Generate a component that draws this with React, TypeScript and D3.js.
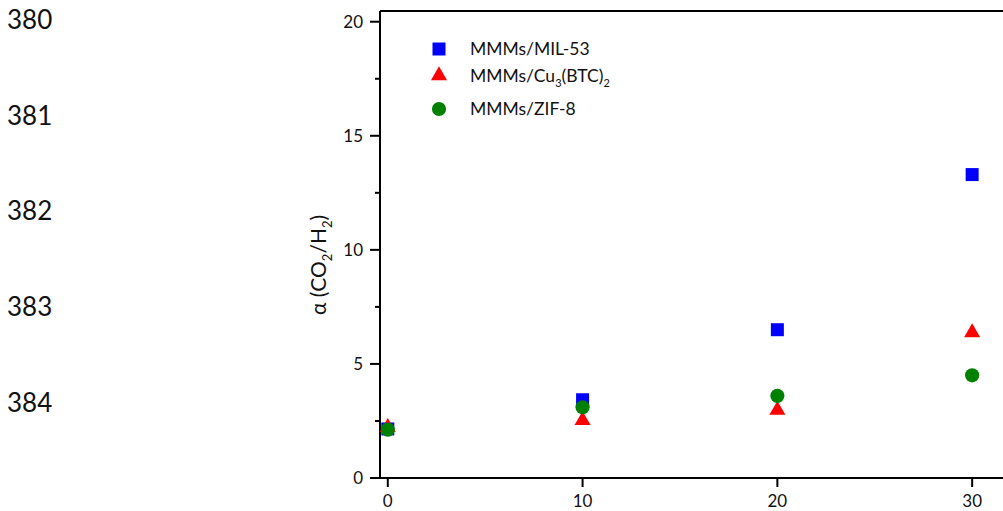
import React from 'react';
import * as d3 from 'd3';

// loading (wt%) on x, selectivity on y
const loadings = [0, 10, 20, 30];
const mil53 = [2.15, 3.43, 6.5, 13.3];
const cuBtc = [2.2, 2.5, 2.95, 6.35];
const zif8 = [2.12, 3.1, 3.6, 4.5];

const xTicks = [0, 10, 20, 30];
const yTicks = [0, 5, 10, 15, 20];
const yMinor = [2.5, 7.5, 12.5, 17.5];
const lineNumbers = ['380', '381', '382', '383', '384'];

const W = 1003;
const H = 511;
const plot = { left: 380, right: 1015, top: 11, bottom: 478 };
const font = 'Lato, "Open Sans", sans-serif';

const x = d3.scaleLinear().domain([-0.4, 32.2]).range([plot.left, plot.right]);
const y = d3.scaleLinear().domain([0, 20.47]).range([plot.bottom, plot.top]);

const series = [
    { name: 'mil', values: mil53, color: '#0000ff', shape: d3.symbolSquare, size: 169 },
    { name: 'cu', values: cuBtc, color: '#ff0000', shape: d3.symbolTriangle, size: 112 },
    { name: 'zif', values: zif8, color: '#008000', shape: d3.symbolCircle, size: 158 },
];

function Marker({ cx, cy, s }: { cx: number; cy: number; s: any }) {
    const d = d3.symbol().type(s.shape).size(s.size)() as string;
    const dy = s.shape === d3.symbolTriangle ? -0.5 : 0;
    return <path d={d} transform={`translate(${cx},${cy + dy})`} fill={s.color} />;
}

export default function App() {
    return (
        <svg width={W} height={H} style={{ position: 'absolute', left: 0, top: 0, background: '#fff' }}>
            {lineNumbers.map((t, i) => (
                <text key={t} x={7} y={29 + i * 95.7} fontFamily={font} fontSize={26} fill="#111">
                    {t}
                </text>
            ))}

            {/* frame */}
            <line x1={plot.left} x2={plot.right} y1={plot.top} y2={plot.top} stroke="#000" strokeWidth={2} />
            <line x1={plot.left} x2={plot.left} y1={plot.top} y2={plot.bottom + 1} stroke="#000" strokeWidth={2} />
            <line x1={plot.left - 1} x2={plot.right} y1={plot.bottom} y2={plot.bottom} stroke="#000" strokeWidth={2} />

            {/* y axis */}
            {yTicks.map(t => (
                <g key={t}>
                    <line x1={plot.left - 10} x2={plot.left} y1={y(t)} y2={y(t)} stroke="#000" strokeWidth={2} />
                    <text x={plot.left - 17} y={y(t) + 6} textAnchor="end" fontFamily={font} fontSize={17} fill="#111">
                        {t}
                    </text>
                </g>
            ))}
            {yMinor.map(t => (
                <line key={t} x1={plot.left - 5} x2={plot.left} y1={y(t)} y2={y(t)} stroke="#000" strokeWidth={2} />
            ))}

            {/* x axis */}
            {xTicks.map(t => (
                <g key={t}>
                    <line x1={x(t)} x2={x(t)} y1={plot.bottom} y2={plot.bottom + 9} stroke="#000" strokeWidth={2} />
                    <text x={x(t)} y={507} textAnchor="middle" fontFamily={font} fontSize={17} fill="#111">
                        {t}
                    </text>
                </g>
            ))}

            {/* y title */}
            <text
                transform={`translate(326,265) rotate(-90)`}
                textAnchor="middle"
                fontFamily={font}
                fontSize={21}
                fill="#111"
            >
                α (CO<tspan fontSize={13} dy={6}>2</tspan>
                <tspan dy={-6}>/H</tspan>
                <tspan fontSize={13} dy={6}>2</tspan>
                <tspan dy={-6}>)</tspan>
            </text>

            {/* points */}
            {series.map(s =>
                s.values.map((v, i) => (
                    <Marker key={s.name + i} cx={x(loadings[i])} cy={y(v)} s={s} />
                ))
            )}

            {/* legend */}
            <Marker cx={439} cy={49} s={series[0]} />
            <Marker cx={439} cy={76} s={series[1]} />
            <Marker cx={439} cy={109} s={series[2]} />
            <g fontFamily={font} fontSize={17.5} fill="#111">
                <text x={470} y={55}>MMMs/MIL-53</text>
                <text x={470} y={82}>
                    MMMs/Cu<tspan fontSize={11} dy={5}>3</tspan>
                    <tspan dy={-5}>(BTC)</tspan>
                    <tspan fontSize={11} dy={5}>2</tspan>
                </text>
                <text x={470} y={115}>MMMs/ZIF-8</text>
            </g>
        </svg>
    );
}
